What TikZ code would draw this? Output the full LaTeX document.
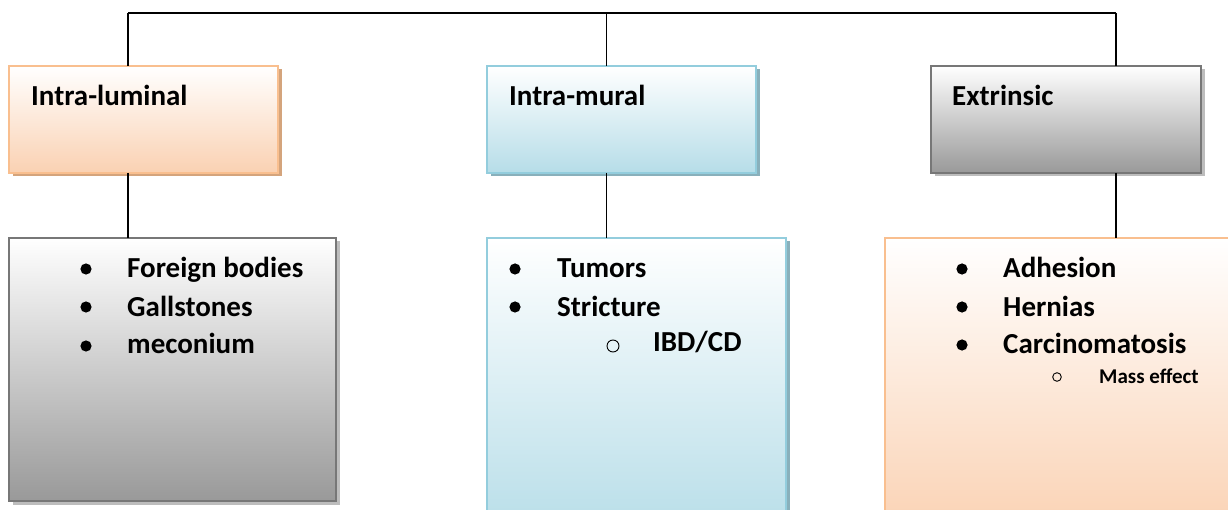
\documentclass[tikz,border=0pt]{standalone}
\usepackage{fontspec}
\setmainfont{Carlito}
\usetikzlibrary{shadows}
\definecolor{orB}{HTML}{F9BF8F}
\definecolor{orF}{HTML}{FAD1B2}
\definecolor{orS}{HTML}{D4A47C}
\definecolor{blB}{HTML}{93CDDD}
\definecolor{blF}{HTML}{B6DDE8}
\definecolor{blS}{HTML}{89B0BB}
\definecolor{grB}{HTML}{777777}
\definecolor{grF}{HTML}{999999}
\definecolor{grS}{HTML}{BDBDBD}
\begin{document}
\begin{tikzpicture}[x=1pt,y=-1pt,
  boxbase/.style={rectangle, anchor=north west, inner sep=0pt, outer sep=0pt, line width=2pt},
  orbox/.style={boxbase, draw=orB, top color=white, bottom color=orF},
  blbox/.style={boxbase, draw=blB, top color=white, bottom color=blF},
  grbox/.style={boxbase, draw=grB, top color=white, bottom color=grF},
  orshadow/.style={drop shadow={shadow xshift=3.5pt, shadow yshift=-3.5pt, fill=orS, opacity=1}},
  blshadow/.style={drop shadow={shadow xshift=3.5pt, shadow yshift=-3.5pt, fill=blS, opacity=1}},
  grshadow/.style={drop shadow={shadow xshift=3.5pt, shadow yshift=-3.5pt, fill=grS, opacity=1}},
  conn/.style={line width=1.8pt, black},
  head/.style={anchor=base west, inner sep=0pt, font=\fontsize{29}{35}\selectfont\bfseries},
  itemtxt/.style={anchor=base west, inner sep=0pt, font=\fontsize{29}{35}\selectfont\bfseries},
  smalltxt/.style={anchor=base west, inner sep=0pt, font=\fontsize{21}{25}\selectfont\bfseries},
  dotbullet/.style={fill=black},
  ringbullet/.style={draw=black, line width=0.9pt}
]
\clip (0,0) rectangle (1228,510);
\fill[white] (0,0) rectangle (1228,510);

% upper boxes
\node[orbox, orshadow, minimum width=269pt, minimum height=107pt] (b1) at (9,66) {};
\node[blbox, blshadow, minimum width=269pt, minimum height=107pt] (b2) at (487,66) {};
\node[grbox, grshadow, minimum width=270pt, minimum height=107pt] (b3) at (931,66) {};

% lower boxes
\node[grbox, grshadow, minimum width=327pt, minimum height=263pt] (b4) at (9,238) {};
\node[blbox, blshadow, minimum width=299pt, minimum height=300pt] (b5) at (487,238) {};
\node[orbox, minimum width=360pt, minimum height=300pt] (b6) at (885,238) {};

% connectors
\coordinate (t1) at (128,13);
\coordinate (t2) at (606.5,13);
\coordinate (t3) at (1116,13);
\draw[conn] (t1) -- (t3);
\draw[conn] (t1) -- (t1 |- b1.north);
\draw[conn] (t2) -- (t2 |- b2.north);
\draw[conn] (t3) -- (t3 |- b3.north);
\draw[conn] (t1 |- b1.south) -- (t1 |- b4.north);
\draw[conn] (t2 |- b2.south) -- (t2 |- b5.north);
\draw[conn] (t3 |- b3.south) -- (t3 |- b6.north);

% headings
\node[head] (h1) at (31,106) {Intra-luminal};
\node[head] (h2) at (509,106) {Intra-mural};
\node[head] (h3) at (952,106) {Extrinsic};

% left list
\fill[dotbullet] (86,269) circle (5.6);
\fill[dotbullet] (86,307) circle (5.6);
\fill[dotbullet] (86,346) circle (5.6);
\node[itemtxt] (l1) at (127,278) {Foreign bodies};
\node[itemtxt] (l2) at (127,317) {Gallstones};
\node[itemtxt] (l3) at (127,353) {meconium};

% middle list
\fill[dotbullet] (515,269) circle (5.6);
\fill[dotbullet] (515,307) circle (5.6);
\draw[ringbullet] (613,346) circle (6);
\node[itemtxt] (m1) at (557,278) {Tumors};
\node[itemtxt] (m2) at (557,317) {Stricture};
\node[itemtxt] (m3) at (653,352) {IBD/CD};

% right list
\fill[dotbullet] (962,269) circle (5.6);
\fill[dotbullet] (962,307) circle (5.6);
\fill[dotbullet] (962,345) circle (5.6);
\draw[ringbullet] (1057,377) circle (4.3);
\node[itemtxt] (r1) at (1003,278) {Adhesion};
\node[itemtxt] (r2) at (1003,317) {Hernias};
\node[itemtxt] (r3) at (1003,353) {Carcinomatosis};
\node[smalltxt] (r4) at (1099,383) {Mass effect};
\end{tikzpicture}
\end{document}
